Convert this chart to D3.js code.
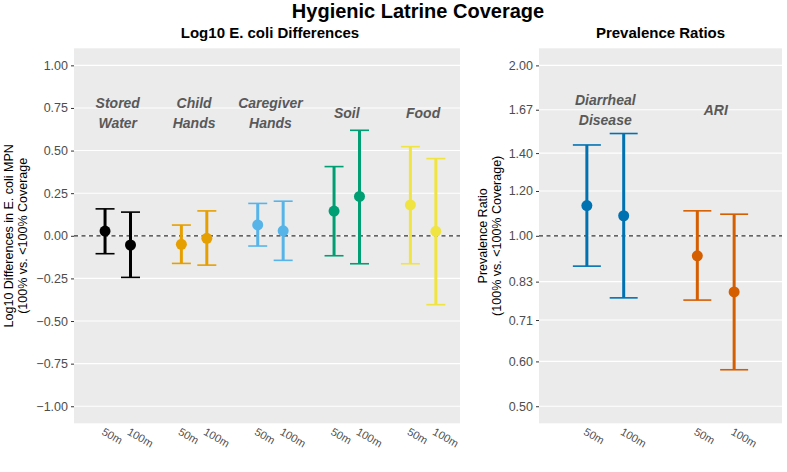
<!DOCTYPE html>
<html>
<head>
<meta charset="utf-8">
<script src="https://cdn.jsdelivr.net/npm/d3@7/dist/d3.min.js"></script>
<style>
  body { margin: 0; background: #fff; }
  svg text { font-family: "Liberation Sans", Arial, sans-serif; }
</style>
</head>
<body>
<div id="chart"></div>
<script>
const width = 787;
const height = 472;

// ---- data ----
const distances = ["50m", "100m"];

// left panel: log10 E. coli differences
const samples = [["Stored", "Water"], ["Child", "Hands"], ["Caregiver", "Hands"], ["Soil"], ["Food"]];
const sampleColors = ["#000000", "#E69F00", "#56B4E9", "#009E73", "#F0E442"];
const est50 = [0.028, -0.050, 0.064, 0.145, 0.181];
const lo50 = [-0.105, -0.162, -0.060, -0.117, -0.164];
const hi50 = [0.158, 0.063, 0.190, 0.406, 0.523];
const est100 = [-0.054, -0.015, 0.029, 0.231, 0.026];
const lo100 = [-0.244, -0.172, -0.144, -0.164, -0.404];
const hi100 = [0.139, 0.146, 0.203, 0.619, 0.453];
const diffTicks = [-1, -0.75, -0.5, -0.25, 0, 0.25, 0.5, 0.75, 1];

// right panel: prevalence ratios
const outcomes = [["Diarrheal", "Disease"], ["ARI"]];
const outcomeColors = ["#0072B2", "#D55E00"];
const pr50 = [1.131, 0.922];
const prLo50 = [0.884, 0.770];
const prHi50 = [1.447, 1.107];
const pr100 = [1.085, 0.796];
const prLo100 = [0.777, 0.580];
const prHi100 = [1.516, 1.092];
const prTicks = [0.5, 0.6, 0.71, 0.83, 1, 1.2, 1.4, 1.67, 2];

const svg = d3.select("#chart")
  .append("svg")
  .attr("width", width)
  .attr("height", height);

// titles
svg.append("text")
  .attr("x", 418).attr("y", 18)
  .attr("text-anchor", "middle")
  .style("font-size", "20px").style("font-weight", "bold")
  .text("Hygienic Latrine Coverage");

function makeRows(names, est5, lo5, hi5, est10, lo10, hi10) {
  const rows = [];
  names.forEach((n, i) => {
    rows.push({ g: i, pos: i * 3 + 1, est: est5[i], lo: lo5[i], hi: hi5[i], dist: distances[0] });
    rows.push({ g: i, pos: i * 3 + 2, est: est10[i], lo: lo10[i], hi: hi10[i], dist: distances[1] });
  });
  return rows;
}

function drawPanel(opt) {
  const top = 48.3, bottom = 423.3;
  const x = d3.scaleLinear().domain(opt.xDomain).range([opt.left, opt.right]);
  const y = opt.y.range([bottom, top]);
  const g = svg.append("g");

  g.append("text")
    .attr("x", opt.titleX).attr("y", 38)
    .attr("text-anchor", "middle")
    .style("font-size", "15px").style("font-weight", "bold")
    .text(opt.title);

  g.append("rect")
    .attr("x", opt.left).attr("y", top)
    .attr("width", opt.right - opt.left).attr("height", bottom - top)
    .attr("fill", "#EBEBEB");

  // y axis with grid
  const yAxis = g.append("g")
    .attr("transform", "translate(" + opt.left + ",0)")
    .call(d3.axisLeft(y).tickValues(opt.ticks).tickSize(3).tickPadding(3).tickFormat(d3.format(".2f")));
  yAxis.select(".domain").remove();
  yAxis.selectAll(".tick line").attr("stroke", "#333");
  yAxis.selectAll(".tick text")
    .attr("fill", "#4d4d4d").style("font-size", "12.5px")
    .text(d => d3.format(".2f")(d).replace("-", "\u2212"));

  g.selectAll(".grid")
    .data(opt.ticks)
    .enter().append("line")
    .attr("x1", opt.left).attr("x2", opt.right)
    .attr("y1", d => y(d)).attr("y2", d => y(d))
    .attr("stroke", "#fff").attr("stroke-width", 1.1);

  // reference line
  g.append("line")
    .attr("x1", opt.left).attr("x2", opt.right)
    .attr("y1", y(opt.ref)).attr("y2", y(opt.ref))
    .attr("stroke", "#333").attr("stroke-width", 1.3)
    .attr("stroke-dasharray", "4,3.5");

  // y label
  const lab = g.append("text")
    .attr("transform", "translate(" + opt.labelX + "," + ((top + bottom) / 2) + ") rotate(-90)")
    .attr("text-anchor", "middle")
    .style("font-size", "12.5px");
  opt.yLabel.forEach((t, i) => {
    lab.append("tspan").attr("x", 0).attr("dy", i === 0 ? 0 : 13.5).text(t);
  });

  // group labels
  opt.names.forEach((n, i) => {
    const cx = x(i * 3 + 1.5);
    const cy = y(opt.labelY);
    const t = g.append("text")
      .attr("text-anchor", "middle")
      .attr("fill", "#595959")
      .style("font-size", "14px").style("font-weight", "bold").style("font-style", "italic");
    n.forEach((line, k) => {
      t.append("tspan")
        .attr("x", cx)
        .attr("y", cy + 5 + (k - (n.length - 1) / 2) * 20)
        .text(line);
    });
  });

  // x tick labels
  g.selectAll(".xlab")
    .data(opt.rows)
    .enter().append("text")
    .attr("transform", d => "translate(" + (x(d.pos) - 4) + ",434) rotate(30)")
    .attr("fill", "#4d4d4d")
    .style("font-size", "11px")
    .text(d => d.dist);

  // error bars
  const bars = g.selectAll(".bar")
    .data(opt.rows)
    .enter().append("g");
  bars.append("line")
    .attr("x1", d => x(d.pos)).attr("x2", d => x(d.pos))
    .attr("y1", d => y(d.lo)).attr("y2", d => y(d.hi))
    .attr("stroke", d => opt.colors[d.g]).attr("stroke-width", 3);
  ["lo", "hi"].forEach(k => {
    bars.append("line")
      .attr("x1", d => x(d.pos) - opt.cap).attr("x2", d => x(d.pos) + opt.cap)
      .attr("y1", d => y(d[k])).attr("y2", d => y(d[k]))
      .attr("stroke", d => opt.colors[d.g]).attr("stroke-width", 1.6);
  });
  bars.append("circle")
    .attr("cx", d => x(d.pos)).attr("cy", d => y(d.est))
    .attr("r", 5.5)
    .attr("fill", d => opt.colors[d.g]);
}

drawPanel({
  title: "Log10 E. coli Differences",
  titleX: 270,
  left: 74, right: 460,
  xDomain: [-0.22, 14.95],
  y: d3.scaleLinear().domain([-1.1, 1.1]),
  ticks: diffTicks,
  ref: 0,
  labelX: 13,
  labelY: 0.72,
  yLabel: ["Log10 Differences in E. coli MPN", "(100% vs. <100% Coverage"],
  names: samples,
  colors: sampleColors,
  cap: 9.5,
  rows: makeRows(samples, est50, lo50, hi50, est100, lo100, hi100)
});

drawPanel({
  title: "Prevalence Ratios",
  titleX: 660.5,
  left: 539, right: 782,
  xDomain: [-0.3, 6.3],
  y: d3.scaleLog().domain([0.4665, 2.144]),
  ticks: prTicks,
  ref: 1,
  labelX: 487,
  labelY: 1.67,
  yLabel: ["Prevalence Ratio", "(100% vs. <100% Coverage)"],
  names: outcomes,
  colors: outcomeColors,
  cap: 14,
  rows: makeRows(outcomes, pr50, prLo50, prHi50, pr100, prLo100, prHi100)
});
</script>
</body>
</html>
